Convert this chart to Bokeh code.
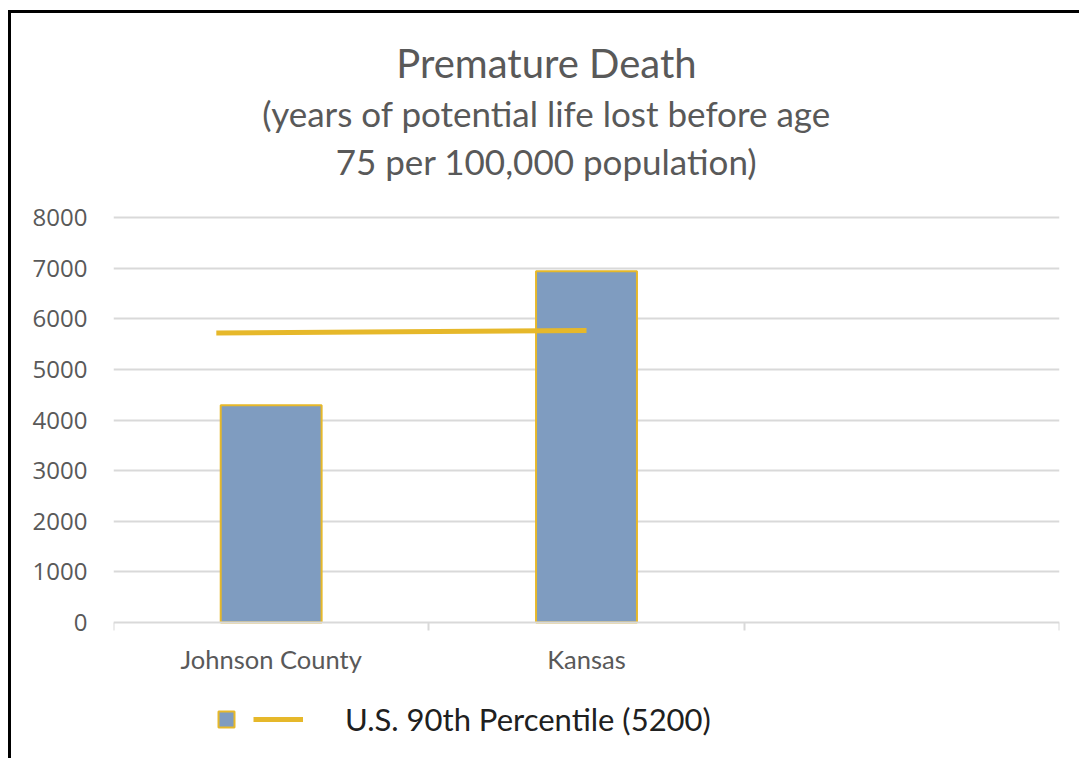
from bokeh.plotting import figure
from bokeh.models import (Range1d, FixedTicker, Label, Legend, LegendItem,
                          ColumnDataSource)
from bokeh.core.properties import value
from bokeh.embed import file_html
from bokeh.resources import INLINE

# ---------------- data ----------------
categories = ["Johnson County", "Kansas", ""]
bar_categories = ["Johnson County", "Kansas"]
bar_values = [4290, 6940]
line_categories = ["Johnson County", "Kansas"]
line_values = [5720, 5770]
y_ticks = [0, 1000, 2000, 3000, 4000, 5000, 6000, 7000, 8000]
title_text = "Premature Death"
subtitle_lines = ["(years of potential life lost before age",
                  "75 per 100,000 population)"]
legend_label = "U.S. 90th Percentile (5200)"

# ---------------- layout / style ----------------
ORIGIN_X, ORIGIN_Y = 11, 13          # canvas origin on the page (margin + border)
W, H = 1071, 748
PLOT_LEFT, PLOT_RIGHT = 113, 1059     # page px of the plot area
ZERO_PY, TOP_PY = 622, 217            # page px of value 0 and of the top tick
Y_TOP = 8000
GRAY = "#595959"
GRID = "#d9d9d9"
BAR_FILL = "#7f9cc0"
GOLD = "#e6b82a"
LINE_OFFSETS = [-0.174, 0.0]          # line start/end offset inside a category slot

n = len(categories)
BL = PLOT_LEFT - ORIGIN_X
BR = W - (PLOT_RIGHT - ORIGIN_X)
unit = Y_TOP / (ZERO_PY - TOP_PY)      # data units per pixel
y_lo = -(ORIGIN_Y + H - ZERO_PY) * unit
y_hi = Y_TOP + (TOP_PY - ORIGIN_Y) * unit
frame_w = PLOT_RIGHT - PLOT_LEFT

def px_to_x(px):
    return (px - PLOT_LEFT) * n / frame_w

def py_to_y(py):
    return (ZERO_PY - py) * unit

p = figure(width=W, height=H, x_range=Range1d(0, n), y_range=Range1d(y_lo, y_hi),
           output_backend="svg", toolbar_location=None,
           min_border_left=BL, min_border_right=BR,
           min_border_top=0, min_border_bottom=0)
p.outline_line_color = None
p.background_fill_color = "white"
p.border_fill_color = "white"
p.styles = {"margin-left": "8px", "margin-top": "10px",
            "border-left": "3px solid black", "border-top": "3px solid black"}

bar_src = ColumnDataSource(dict(
    x=[categories.index(c) + 0.5 for c in bar_categories], top=bar_values))
bars = p.vbar(x="x", top="top", width=0.32, source=bar_src,
              fill_color=BAR_FILL, line_color=GOLD, line_width=2)

line_src = ColumnDataSource(dict(
    x=[categories.index(c) + 0.5 + o for c, o in zip(line_categories, LINE_OFFSETS)],
    y=line_values))
ln = p.line(x="x", y="y", source=line_src, line_color=GOLD, line_width=5)

# grid
p.xgrid.visible = False
p.ygrid.grid_line_color = GRID
p.ygrid.grid_line_width = 2
p.ygrid.ticker = FixedTicker(ticks=y_ticks[1:])

# y axis
p.yaxis.ticker = FixedTicker(ticks=y_ticks)
p.yaxis.axis_line_color = None
p.yaxis.major_tick_line_color = None
p.yaxis.major_tick_out = 0
p.yaxis.major_tick_in = 0
p.yaxis.minor_tick_line_color = None
p.yaxis.major_label_standoff = 26
p.yaxis.major_label_text_font = "Open Sans"
p.yaxis.major_label_text_font_size = "24px"
p.yaxis.major_label_text_color = GRAY

# x axis (kept at value 0)
p.xaxis.fixed_location = 0
p.xaxis.ticker = FixedTicker(ticks=[i + 0.5 for i in range(n)],
                             minor_ticks=list(range(n + 1)))
p.xaxis.major_label_overrides = {i + 0.5: c for i, c in enumerate(categories)}
p.xaxis.axis_line_color = GRID
p.xaxis.axis_line_width = 2
p.xaxis.major_tick_line_color = None
p.xaxis.major_tick_out = 0
p.xaxis.major_tick_in = 0
p.xaxis.minor_tick_line_color = GRID
p.xaxis.minor_tick_line_width = 2
p.xaxis.minor_tick_out = 8
p.xaxis.minor_tick_in = 0
p.xaxis.major_label_standoff = 13
p.xaxis.major_label_text_font = "Lato"
p.xaxis.major_label_text_font_size = "25.5px"
p.xaxis.major_label_text_color = GRAY

# titles
p.add_layout(Label(x=px_to_x(546), y=py_to_y(62), text=title_text,
                   text_font="Lato", text_font_size="40px", text_color=GRAY,
                   text_align="center", text_baseline="middle"))
for txt, py in zip(subtitle_lines, [112, 160]):
    p.add_layout(Label(x=px_to_x(546), y=py_to_y(py), text=txt,
                       text_font="Lato", text_font_size="35px", text_color=GRAY,
                       text_align="center", text_baseline="middle"))

# legends (positions relative to the plot area's bottom-left corner)
frame_bottom_page = ORIGIN_Y + H
leg_bar = Legend(items=[LegendItem(label=value(""), renderers=[bars])],
                 location=(216 - PLOT_LEFT, frame_bottom_page - 729),
                 glyph_width=20, glyph_height=20, label_height=20,
                 label_standoff=0, label_text_font_size="1px",
                 padding=0, margin=0, spacing=0,
                 border_line_color=None, background_fill_alpha=0)
leg_line = Legend(items=[LegendItem(label=value(legend_label), renderers=[ln])],
                  location=(253 - PLOT_LEFT, frame_bottom_page - 738),
                  glyph_width=50, glyph_height=30, label_height=30,
                  label_standoff=42, label_text_font="Lato",
                  label_text_font_size="31px", label_text_color="#202020",
                  padding=0, margin=0, spacing=0,
                  border_line_color=None, background_fill_alpha=0)
p.add_layout(leg_bar, "center")
p.add_layout(leg_line, "center")

open("out.html", "w").write(file_html(p, INLINE))
